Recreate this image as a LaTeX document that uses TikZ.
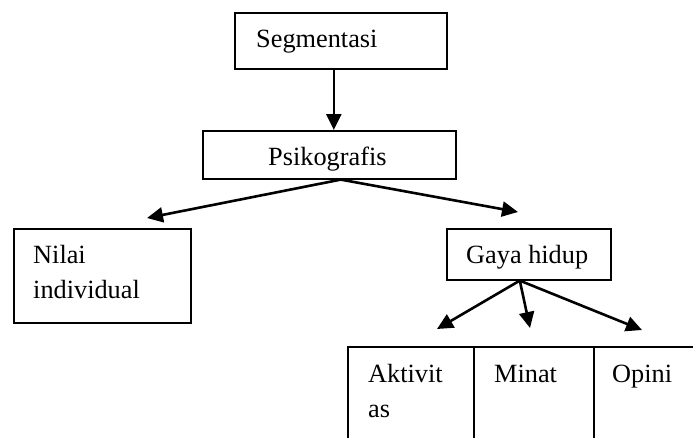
\documentclass[tikz,border=0pt]{standalone}
\usepackage{fontspec}
\setmainfont{Liberation Serif}
\usetikzlibrary{arrows.meta}
\begin{document}
\begin{tikzpicture}[x=1pt,y=-1pt,
  box/.style={draw, line width=1.6pt, rectangle, inner sep=0pt, anchor=north west},
  txt/.style={anchor=base west, inner sep=0pt, font=\fontsize{26.3}{35}\selectfont},
  arr/.style={line width=2.6pt, -{Triangle[length=16pt,width=15pt]}}]
\useasboundingbox (0,0) rectangle (693,437);
\clip (0,0) rectangle (693,437);
% boxes
\node[box, minimum width=212pt, minimum height=56pt] (seg) at (234,12) {};
\node[box, minimum width=253pt, minimum height=48pt] (psi) at (202,130) {};
\node[box, minimum width=177pt, minimum height=94pt] (nil) at (13,228) {};
\node[box, minimum width=164pt, minimum height=51pt] (gay) at (446,228) {};
\node[box, minimum width=126pt, minimum height=120pt] (akt) at (347,346) {};
\node[box, minimum width=120pt, minimum height=120pt] (min) at (473,346) {};
\node[box, minimum width=130pt, minimum height=120pt] (opi) at (593,346) {};
% texts
\node[txt] (tseg) at (256,47) {Segmentasi};
\node[txt] (tpsi) at (268,165) {Psikografis};
\node[txt] (tnil1) at (33,263) {Nilai};
\node[txt] (tnil2) at (33,298) {individual};
\node[txt] (tgay) at (466,263) {Gaya hidup};
\node[txt] (takt1) at (368,382) {Aktivit};
\node[txt] (takt2) at (368,417) {as};
\node[txt] (tmin) at (494,382) {Minat};
\node[txt] (topi) at (612,382) {Opini};
% free arrow ends
\coordinate (t1) at (147,218);
\coordinate (t2) at (518,212);
\coordinate (t3) at (437,329);
\coordinate (t4) at (530,328);
\coordinate (t5) at (642,330);
% connectors
\draw[arr] ([xshift=-7pt]seg.south) -- ([xshift=4.5pt]psi.north);
\draw[arr] ([xshift=11.5pt]psi.south) -- (t1);
\draw[arr] ([xshift=11.5pt]psi.south) -- (t2);
\draw[arr] ([xshift=-9pt]gay.south) -- (t3);
\draw[arr] ([xshift=-9pt]gay.south) -- (t4);
\draw[arr] ([xshift=-9pt]gay.south) -- (t5);
\end{tikzpicture}
\end{document}
